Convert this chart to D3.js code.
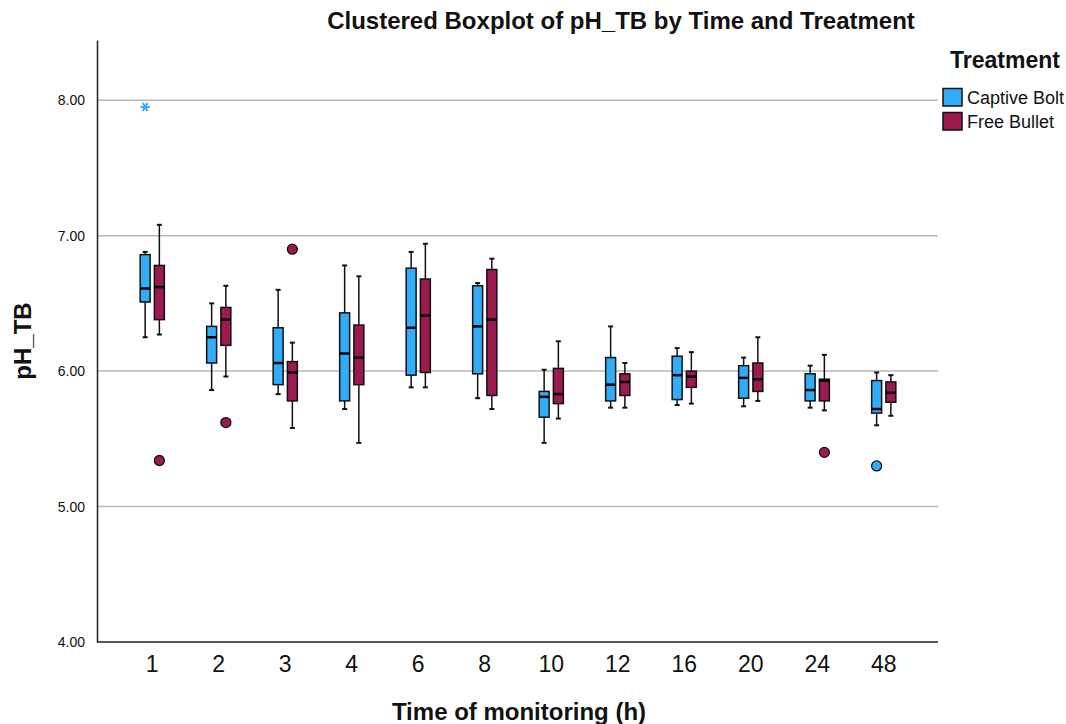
<!DOCTYPE html>
<html>
<head>
<meta charset="utf-8">
<title>Clustered Boxplot of pH_TB</title>
<script src="https://cdn.jsdelivr.net/npm/d3@7"></script>
<style>
  body { margin: 0; background: #fff; }
  text { font-family: Arial, "Liberation Sans", sans-serif; }
</style>
</head>
<body>
<script>
// time categories (h)
var times = ['1', '2', '3', '4', '6', '8', '10', '12', '16', '20', '24', '48']
var groups = ['Captive Bolt', 'Free Bullet']
var yTicks = [4, 5, 6, 7, 8]

// [whisker low, q1, median, q3, whisker high]
var captiveBolt = [
  [6.25, 6.51, 6.61, 6.86, 6.88],
  [5.86, 6.06, 6.25, 6.33, 6.50],
  [5.83, 5.90, 6.06, 6.32, 6.60],
  [5.72, 5.78, 6.13, 6.43, 6.78],
  [5.88, 5.97, 6.32, 6.76, 6.88],
  [5.80, 5.98, 6.33, 6.63, 6.65],
  [5.47, 5.66, 5.81, 5.85, 6.01],
  [5.73, 5.78, 5.90, 6.10, 6.33],
  [5.75, 5.79, 5.97, 6.11, 6.17],
  [5.74, 5.80, 5.95, 6.04, 6.10],
  [5.73, 5.78, 5.86, 5.98, 6.04],
  [5.60, 5.69, 5.72, 5.93, 5.99]
]
var freeBullet = [
  [6.27, 6.38, 6.62, 6.78, 7.08],
  [5.96, 6.19, 6.38, 6.47, 6.63],
  [5.58, 5.78, 5.99, 6.07, 6.21],
  [5.47, 5.90, 6.10, 6.34, 6.70],
  [5.88, 5.99, 6.41, 6.68, 6.94],
  [5.72, 5.82, 6.38, 6.75, 6.83],
  [5.65, 5.76, 5.83, 6.02, 6.22],
  [5.73, 5.82, 5.92, 5.98, 6.06],
  [5.76, 5.88, 5.96, 6.00, 6.14],
  [5.78, 5.85, 5.94, 6.06, 6.25],
  [5.71, 5.78, 5.93, 5.94, 6.12],
  [5.67, 5.77, 5.84, 5.92, 5.97]
]

// outliers: time, group, value, type (circle = outlier, star = extreme)
var outliers = [
  { time: '1', group: 'Captive Bolt', value: 7.95, type: 'star' },
  { time: '1', group: 'Free Bullet', value: 5.34, type: 'circle' },
  { time: '2', group: 'Free Bullet', value: 5.62, type: 'circle' },
  { time: '3', group: 'Free Bullet', value: 6.90, type: 'circle' },
  { time: '24', group: 'Free Bullet', value: 5.40, type: 'circle' },
  { time: '48', group: 'Captive Bolt', value: 5.30, type: 'circle' }
]

var colors = { 'Captive Bolt': '#31adf7', 'Free Bullet': '#9b1a4f' }

var W = 1066, H = 724
var plot = { left: 97, right: 938, top: 40, bottom: 642 }

var svg = d3.select('body').append('svg')
  .attr('width', W)
  .attr('height', H)

var xScale = d3.scaleBand()
  .domain(times)
  .range([plot.left + 22, plot.right - 21])

var groupScale = d3.scaleBand()
  .domain(groups)
  .range([-12.8, 12.8])
  .paddingInner(0.3)
  .paddingOuter(0.05)

var yScale = d3.scaleLinear()
  .domain([4, 8.4445])
  .range([plot.bottom, plot.top])

// gridlines
svg.append('g')
  .selectAll('line')
  .data(yTicks.filter(function (d) { return d > 4 }))
  .enter()
  .append('line')
  .attr('x1', plot.left)
  .attr('x2', plot.right)
  .attr('y1', function (d) { return yScale(d) })
  .attr('y2', function (d) { return yScale(d) })
  .attr('stroke', '#b9b9b9')
  .attr('stroke-width', 1.5)

// y axis
var yAxis = d3.axisLeft(yScale)
  .tickValues(yTicks)
  .tickFormat(d3.format('.2f'))
  .tickSize(0)
  .tickPadding(12)
var yg = svg.append('g')
  .attr('transform', 'translate(' + plot.left + ',0)')
  .call(yAxis)
yg.select('.domain').attr('stroke', '#222').attr('stroke-width', 1.5)
yg.selectAll('text').attr('font-size', 14).attr('fill', '#111')

// x axis
var xAxis = d3.axisBottom(xScale).tickSize(0).tickPadding(14)
var xg = svg.append('g')
  .attr('transform', 'translate(0,' + plot.bottom + ')')
  .call(xAxis)
xg.select('.domain')
  .attr('d', 'M' + plot.left + ',0H' + plot.right)
  .attr('stroke', '#222').attr('stroke-width', 1.5)
xg.selectAll('text').attr('font-size', 23).attr('fill', '#111')

// boxes
var boxData = []
times.forEach(function (t, i) {
  boxData.push({ time: t, group: 'Captive Bolt', s: captiveBolt[i] })
  boxData.push({ time: t, group: 'Free Bullet', s: freeBullet[i] })
})

var bw = groupScale.bandwidth()
function cx(d) { return xScale(d.time) + xScale.bandwidth() / 2 + groupScale(d.group) + bw / 2 }

var boxes = svg.append('g').selectAll('g')
  .data(boxData)
  .enter()
  .append('g')

boxes.append('line')
  .attr('x1', cx).attr('x2', cx)
  .attr('y1', function (d) { return yScale(d.s[0]) })
  .attr('y2', function (d) { return yScale(d.s[4]) })
  .attr('stroke', '#111').attr('stroke-width', 1.5)

boxes.selectAll('.cap')
  .data(function (d) { return [d.s[0], d.s[4]].map(function (v) { return { d: d, v: v } }) })
  .enter()
  .append('line')
  .attr('class', 'cap')
  .attr('x1', function (c) { return cx(c.d) - 2.5 })
  .attr('x2', function (c) { return cx(c.d) + 2.5 })
  .attr('y1', function (c) { return yScale(c.v) })
  .attr('y2', function (c) { return yScale(c.v) })
  .attr('stroke', '#111').attr('stroke-width', 2)

boxes.append('rect')
  .attr('x', function (d) { return cx(d) - bw / 2 })
  .attr('width', bw)
  .attr('y', function (d) { return yScale(d.s[3]) })
  .attr('height', function (d) { return yScale(d.s[1]) - yScale(d.s[3]) })
  .attr('fill', function (d) { return colors[d.group] })
  .attr('stroke', '#111').attr('stroke-width', 1.5)

boxes.append('line')
  .attr('x1', function (d) { return cx(d) - bw / 2 })
  .attr('x2', function (d) { return cx(d) + bw / 2 })
  .attr('y1', function (d) { return yScale(d.s[2]) })
  .attr('y2', function (d) { return yScale(d.s[2]) })
  .attr('stroke', '#000').attr('stroke-width', 2.5)

// outliers
svg.append('g').selectAll('circle')
  .data(outliers.filter(function (d) { return d.type === 'circle' }))
  .enter()
  .append('circle')
  .attr('cx', cx)
  .attr('cy', function (d) { return yScale(d.value) })
  .attr('r', 5)
  .attr('fill', function (d) { return colors[d.group] })
  .attr('stroke', '#111').attr('stroke-width', 1.3)

// extreme values as asterisks
svg.append('g').selectAll('path')
  .data(outliers.filter(function (d) { return d.type === 'star' }))
  .enter()
  .append('path')
  .attr('d', d3.symbol(d3.symbolAsterisk, 60))
  .attr('transform', function (d) { return 'translate(' + cx(d) + ',' + yScale(d.value) + ') rotate(90)' })
  .attr('fill', 'none')
  .attr('stroke', function (d) { return colors[d.group] })
  .attr('stroke-width', 2)

// title and axis labels
svg.append('text')
  .attr('x', 621).attr('y', 29)
  .attr('text-anchor', 'middle')
  .attr('font-size', 24).attr('font-weight', 'bold').attr('fill', '#111')
  .text('Clustered Boxplot of pH_TB by Time and Treatment')

svg.append('text')
  .attr('x', 519).attr('y', 720)
  .attr('text-anchor', 'middle')
  .attr('font-size', 24).attr('font-weight', 'bold').attr('fill', '#111')
  .text('Time of monitoring (h)')

svg.append('text')
  .attr('transform', 'translate(31,341) rotate(-90)')
  .attr('text-anchor', 'middle')
  .attr('font-size', 24).attr('font-weight', 'bold').attr('fill', '#111')
  .text('pH_TB')

// legend
var legend = svg.append('g').attr('transform', 'translate(943,0)')
legend.append('text')
  .attr('x', 7).attr('y', 68)
  .attr('font-size', 23).attr('font-weight', 'bold').attr('fill', '#111')
  .text('Treatment')
var li = legend.selectAll('.item')
  .data(groups)
  .enter()
  .append('g')
  .attr('class', 'item')
  .attr('transform', function (d, i) { return 'translate(0,' + (88.5 + i * 24) + ')' })
li.append('rect')
  .attr('width', 19).attr('height', 17.5)
  .attr('fill', function (d) { return colors[d] })
  .attr('stroke', '#111').attr('stroke-width', 1.5)
li.append('text')
  .attr('x', 24).attr('y', 15)
  .attr('font-size', 18).attr('fill', '#111')
  .text(function (d) { return d })
</script>
</body>
</html>
